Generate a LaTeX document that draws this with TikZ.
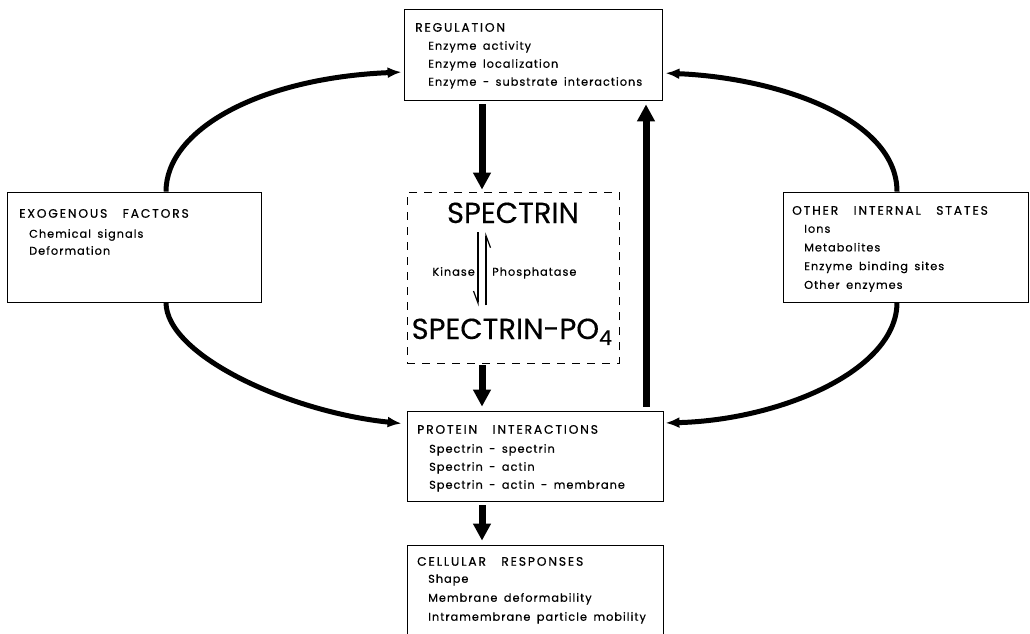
\documentclass[tikz,border=0pt]{standalone}
\usepackage{fontspec}
\setmainfont{Poppins}
\newfontfamily\diagfont[LetterSpace=9,WordSpace=1.6,FakeBold=0.5]{Poppins}
\newfontfamily\headfont[LetterSpace=15,WordSpace=3,FakeBold=0.5]{Poppins}
\newfontfamily\bigfont[FakeBold=0.3]{Poppins}
\usetikzlibrary{arrows.meta}

\begin{document}
\begin{tikzpicture}[x=1pt,y=-1pt,
    box/.style={draw,line width=0.8pt,inner sep=0pt},
    hd/.style={font=\headfont\fontsize{12.3}{14}\selectfont,anchor=mid west,inner sep=0pt},
    itm/.style={font=\diagfont\fontsize{11.3}{13}\selectfont,anchor=mid west,inner sep=0pt},
    spc/.style={font=\bigfont\fontsize{29}{32}\selectfont,anchor=base,inner sep=0pt},
    bigarr/.style={line width=7pt,-{Triangle[length=17pt,width=17pt]}},
    curvarr/.style={line width=5pt,-{Latex[length=14pt,width=11pt]}},
    harp/.style={line width=1.2pt,-{Straight Barb[right,length=12pt,width=9pt]}},
  ]
  \path[use as bounding box,clip] (0,0) rectangle (1030,634);
  \node[box,minimum width=258pt,minimum height=91pt] (reg) at (533,54.5) {};
  \node[box,minimum width=254pt,minimum height=110pt] (exo) at (134,247) {};
  \node[box,minimum width=245pt,minimum height=110pt] (oth) at (905.5,247) {};
  \node[box,dash pattern=on 8pt off 7pt,minimum width=212pt,minimum height=171pt] (spec) at (513,277.5) {};
  \node[box,minimum width=256pt,minimum height=90pt] (prot) at (535,456) {};
  \node[box,minimum width=256pt,minimum height=155pt] (cell) at (535,622.5) {};

  \node[hd] (reg-h) at (415,29) {REGULATION};
  \foreach \t [count=\i] in {Enzyme activity, Enzyme localization, Enzyme - substrate interactions}
    \node[itm] (reg-\i) at (428,47+18*\i-18) {\t};
  \node[hd] (exo-h) at (19,215) {EXOGENOUS FACTORS};
  \foreach \t [count=\i] in {Chemical signals, Deformation}
    \node[itm] (exo-\i) at (29,235+17*\i-17) {\t};
  \node[hd] (oth-h) at (792,212) {OTHER INTERNAL STATES};
  \foreach \t [count=\i] in {Ions, Metabolites, Enzyme binding sites, Other enzymes}
    \node[itm] (oth-\i) at (804,230+18.7*\i-18.7) {\t};
  \node[hd] (prot-h) at (417,431) {PROTEIN INTERACTIONS};
  \foreach \t [count=\i] in {Spectrin - spectrin, Spectrin - actin, Spectrin - actin - membrane}
    \node[itm] (prot-\i) at (429,450+18*\i-18) {\t};
  \node[hd] (cell-h) at (417,563) {CELLULAR RESPONSES};
  \foreach \t [count=\i] in {Shape, Membrane deformability, Intramembrane particle mobility}
    \node[itm] (cell-\i) at (428,580+19*\i-19) {\t};

  \node[spc] (sp) at (513,223) {SPECTRIN};
  \node[spc] (spp) at (512,339) {SPECTRIN-PO\textsubscript{4}};
  \coordinate (kd) at (478,0);
  \coordinate (kp) at (486,0);
  \draw[harp,shorten <=9pt,shorten >=12pt] (sp.south -| kd) -- (spp.north -| kd);
  \draw[harp,shorten <=13pt,shorten >=9pt] (spp.north -| kp) -- (sp.south -| kp);
  \node[itm,anchor=mid east] (kin) at (475,273) {Kinase};
  \node[itm] (pho) at (492,273) {Phosphatase};

  \coordinate (ad) at (482,0);
  \coordinate (au) at (646,0);
  \draw[bigarr,shorten <=4pt,shorten >=2pt] (reg.south -| ad) -- (spec.north -| ad);
  \draw[bigarr,shorten <=2pt,shorten >=4pt] (spec.south -| ad) -- (prot.north -| ad);
  \draw[bigarr,shorten <=4pt,shorten >=4pt] (prot.south -| ad) -- (cell.north -| ad);
  \draw[bigarr,shorten <=4pt,shorten >=4pt] (prot.north -| au) -- (reg.south -| au);

  \draw[curvarr,shorten >=2pt] ([xshift=32pt]exo.north) .. controls +(0,-62) and +(-144,6) .. ([yshift=-17.5pt]reg.west);
  \draw[curvarr,shorten >=3pt] ([xshift=-8.5pt]oth.north) .. controls +(0,-72) and +(118,5) .. ([yshift=-18.5pt]reg.east);
  \draw[curvarr,shorten >=5pt] ([xshift=32pt]exo.south) .. controls +(0,53) and +(-117,-12) .. ([yshift=32pt]prot.west);
  \draw[curvarr,shorten >=2pt] ([xshift=-8.5pt]oth.south) .. controls +(0,68) and +(117,-3) .. ([yshift=33pt]prot.east);
\end{tikzpicture}
\end{document}
